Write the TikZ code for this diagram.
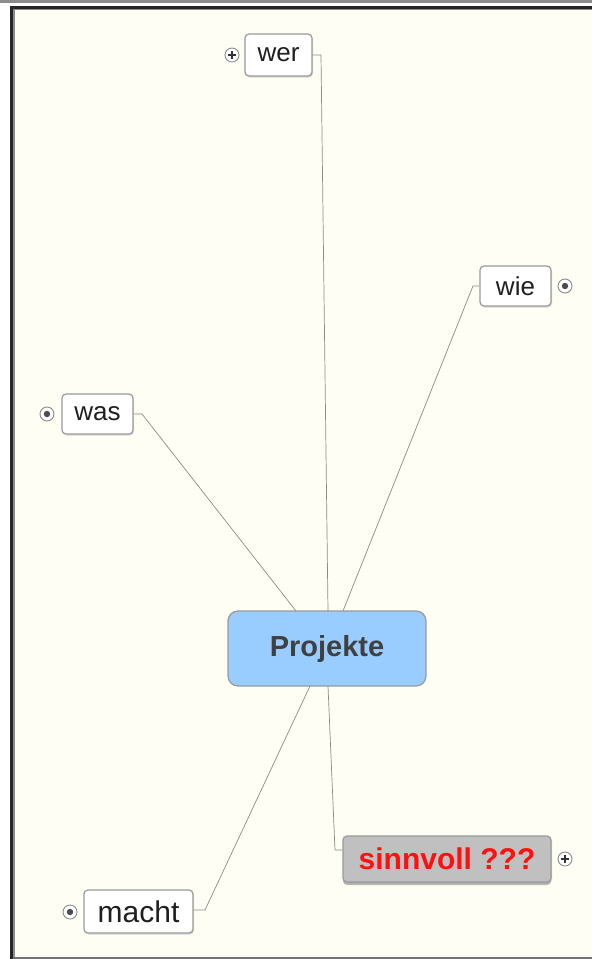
\documentclass[tikz,border=0pt]{standalone}
\usepackage{fontspec}
\setmainfont{Liberation Sans}
\usetikzlibrary{shadows}
\definecolor{paper}{HTML}{FEFEF4}
\definecolor{edgegray}{HTML}{8C8C8C}
\definecolor{boxline}{HTML}{9A9A9A}
\definecolor{rootblue}{HTML}{99CCFF}
\definecolor{topicgray}{HTML}{C0C0C0}
\definecolor{alertred}{HTML}{FF1010}
\tikzset{
  topic/.style={draw=boxline, line width=1.2pt, fill=white, rounded corners=4pt,
    inner sep=0pt, font=\fontsize{26}{26}\selectfont, text=black!88,
    drop shadow={shadow xshift=1pt, shadow yshift=-1.5pt, fill=black!25, opacity=0.6}},
  root/.style={draw=boxline, line width=1.2pt, fill=rootblue, rounded corners=10pt,
    inner sep=0pt, minimum width=198pt, minimum height=75pt,
    font=\fontsize{29}{29}\selectfont\bfseries, text=black!75},
  link/.style={draw=edgegray, line width=0.7pt},
  expander/.style={circle, draw=black!45, line width=0.9pt, fill=white,
    minimum size=14pt, inner sep=0pt},
}
\newcommand{\plusmark}[1]{%
  \draw[black!80, line width=1.5pt] ([xshift=-3.8pt]#1.center) -- ([xshift=3.8pt]#1.center)
    ([yshift=-3.8pt]#1.center) -- ([yshift=3.8pt]#1.center);}
\newcommand{\dotmark}[1]{%
  \fill[black!70] (#1.center) circle (3.2pt);}
\begin{document}
\begin{tikzpicture}[x=1pt,y=-1pt]
\useasboundingbox (0,0) rectangle (592,959);
% window frame and paper
\fill[white] (0,0) rectangle (592,959);
\fill[paper] (12,8) rectangle (592,957);
\fill[black!45] (0,0) rectangle (592,2.5);
\fill[black!85] (10,5.5) rectangle (592,8.5);
\fill[black!85] (10,5.5) rectangle (12.5,959);
\fill[black!45] (12.5,8.5) rectangle (14.5,959);
\fill[black!45] (12.5,8.5) rectangle (592,10);
\fill[black!55] (12.5,956.5) rectangle (592,959);

% nodes
\node[root] (proj) at (327,648.5) {Projekte};
\node[topic, minimum width=67pt, minimum height=42pt] (wer) at (278.5,55) {wer};
\node[topic, minimum width=71pt, minimum height=40pt] (wie) at (515.5,286) {wie};
\node[topic, minimum width=71pt, minimum height=40pt] (was) at (97.5,414) {was};
\node[topic, minimum width=109pt, minimum height=43pt, font=\fontsize{30}{30}\selectfont] (macht) at (138.5,911.5) {macht};
\node[topic, fill=topicgray, minimum width=208pt, minimum height=46pt,
  font=\fontsize{30}{30}\selectfont\bfseries, text=alertred,
  drop shadow={shadow xshift=0pt, shadow yshift=-3pt, fill=black!40, opacity=0.7}] (sinn) at (447,859) {sinnvoll ???};

% expander buttons
\node[expander] (xwer) at (232,55) {};
\node[expander] (xwie) at (565,286) {};
\node[expander] (xwas) at (47,414) {};
\node[expander] (xmacht) at (70,912) {};
\node[expander] (xsinn) at (565,859) {};
\plusmark{xwer}
\plusmark{xsinn}
\dotmark{xwie}
\dotmark{xwas}
\dotmark{xmacht}

% connectors
\coordinate (bwer) at (321,55);
\coordinate (bwie) at (473,286);
\coordinate (bwas) at (142,414);
\coordinate (bmacht) at (205,910);
\coordinate (bsinn) at (335,850);
\draw[link] (wer.east) -- (bwer) -- (328,611);
\draw[link] (wie.west) -- (bwie) -- (343,611);
\draw[link] (was.east) -- (bwas) -- (296,611);
\draw[link] (macht.east |- bmacht) -- (bmacht) -- (310,686);
\draw[link] (328,686) -- (bsinn) -- (sinn.west |- bsinn);
\end{tikzpicture}
\end{document}
